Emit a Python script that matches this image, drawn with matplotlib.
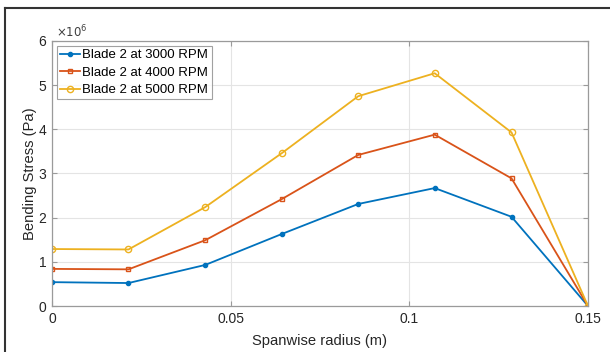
import matplotlib
matplotlib.use("Agg")
import matplotlib.pyplot as plt
from matplotlib.ticker import FuncFormatter
from matplotlib.lines import Line2D

plt.rcParams['font.family'] = ['Liberation Sans', 'DejaVu Sans']

radius = [0.0, 0.0214, 0.0429, 0.0643, 0.0857, 0.1071, 0.1286, 0.15]
stress_3000 = [0.54e6, 0.52e6, 0.93e6, 1.63e6, 2.31e6, 2.67e6, 2.02e6, 0.0]
stress_4000 = [0.84e6, 0.83e6, 1.49e6, 2.42e6, 3.42e6, 3.88e6, 2.89e6, 0.0]
stress_5000 = [1.29e6, 1.28e6, 2.24e6, 3.46e6, 4.75e6, 5.27e6, 3.93e6, 0.0]
labels = ['Blade 2 at 3000 RPM', 'Blade 2 at 4000 RPM', 'Blade 2 at 5000 RPM']
xticks = [0, 0.05, 0.1, 0.15]
xtick_labels = ['0', '0.05', '0.1', '0.15']
yticks = [0, 1e6, 2e6, 3e6, 4e6, 5e6, 6e6]

fig = plt.figure(figsize=(6.1, 3.52), dpi=100)
W, H = 610, 352
ax = fig.add_axes([52 / W, 1 - 306 / H, (588 - 52) / W, (306 - 41) / H])

ax.plot(radius, stress_3000, color='#0072BD', marker='.', markersize=6, lw=1.3, label=labels[0])
ax.plot(radius, stress_4000, color='#D95319', marker='s', markersize=3.5, lw=1.3, label=labels[1],
        markerfacecolor='none', markeredgewidth=1.0)
ax.plot(radius, stress_5000, color='#EDB120', marker='o', markersize=4.5, lw=1.3, label=labels[2],
        markerfacecolor='none', markeredgewidth=1.0)

ax.set_xlim(0, 0.15)
ax.set_ylim(0, 6e6)
ax.set_xticks(xticks)
ax.set_xticklabels(xtick_labels)
ax.set_yticks(yticks)
ax.yaxis.set_major_formatter(FuncFormatter(lambda v, p: f'{v/1e6:g}'))
ax.grid(True, color='#e4e4e4', lw=0.8)
ax.set_axisbelow(True)
for s in ax.spines.values():
    s.set_color('#9a9a9a')
    s.set_linewidth(0.9)
ax.tick_params(direction='in', length=3.5, width=0.8, color='#9a9a9a', labelsize=10,
               labelcolor='#262626', top=True, right=True, pad=4)
ax.set_xlabel('Spanwise radius (m)', fontsize=10.6, color='#262626', labelpad=6)
ax.set_ylabel('Bending Stress (Pa)', fontsize=10.6, color='#262626', labelpad=1)
ax.text(0.008, 1.0 + 3.5 / 265, r'$\times10^{6}$', transform=ax.transAxes, fontsize=8.5,
        color='#404040', ha='left', va='baseline', math_fontfamily='dejavusans')

leg = ax.legend(loc='upper left', fontsize=9.5, frameon=True, fancybox=False,
                borderpad=0.25, labelspacing=0.4, handlelength=1.5, handletextpad=0.2,
                borderaxespad=0.35)
leg.get_frame().set_edgecolor('#8a8a8a')
leg.get_frame().set_linewidth(0.8)

# outer frame (cropped screenshot border)
fig.add_artist(Line2D([5 / W, 1.0], [1 - 8 / H, 1 - 8 / H], color='#333333', lw=1.5,
                      transform=fig.transFigure))
fig.add_artist(Line2D([5 / W, 5 / W], [0, 1 - 8 / H], color='#333333', lw=1.5,
                      transform=fig.transFigure))

fig.savefig('out.png', dpi=100)
